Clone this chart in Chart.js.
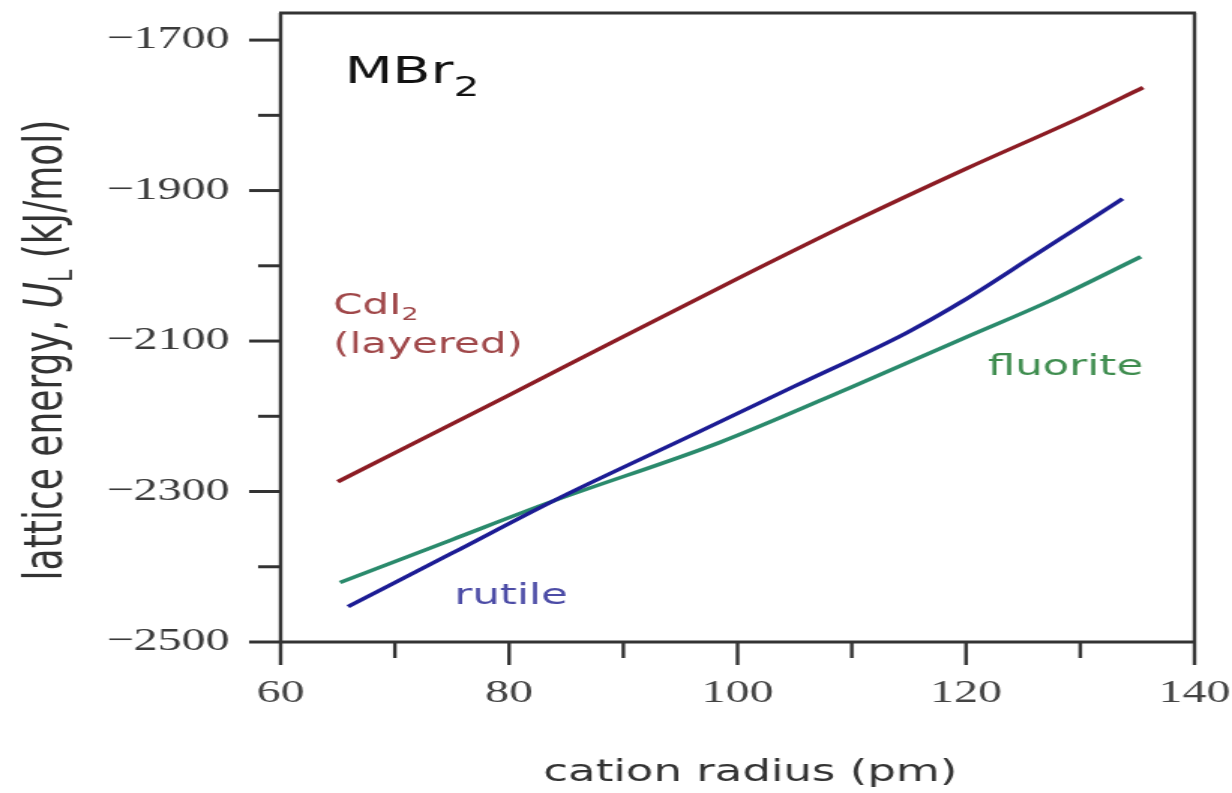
<!DOCTYPE html>
<html>
<head>
<meta charset="utf-8">
<title>MBr2 lattice energy</title>
<script src="https://cdn.jsdelivr.net/npm/chart.js@4.4.1/dist/chart.umd.min.js"></script>
<style>
  html, body { margin: 0; padding: 0; background: #fff; }
  #chart { display: block; }
</style>
</head>
<body>
<!-- the original picture is stretched sideways, so the canvas is too -->
<canvas id="chart" width="821" height="793" style="width:1232px;height:793px"></canvas>
<script>
// cation radius (pm) and lattice energy (kJ/mol)
const radiusCdI2 = [65, 80, 90, 100, 110, 120, 130, 135.5];
const energyCdI2 = [-2287, -2172, -2094, -2017, -1942, -1871, -1803, -1763];

const radiusRutile = [65.9, 75, 83.8, 96.7, 105, 114.8, 119.7, 126, 133.7];
const energyRutile = [-2453, -2382, -2313, -2220, -2160, -2089, -2047, -1986, -1911];

const radiusFluorite = [65.2, 75, 83.8, 98.4, 110, 120, 127.3, 135.3];
const energyFluorite = [-2421, -2364, -2313, -2235, -2161, -2095, -2047, -1988];

// labelled ticks
const xTickLabels = [60, 80, 100, 120, 140];
const yTickLabels = [-1700, -1900, -2100, -2300, -2500];

const toPoints = (xs, ys) => xs.map((v, i) => ({ x: v, y: ys[i] }));

const AXIS = '#333';
const SANS = '"DejaVu Sans", Verdana, sans-serif';
const SERIF = '"Liberation Serif", "Times New Roman", serif';

// axis box, tick marks, axis titles and the in-plot labels
const framePlugin = {
  id: 'frame',
  afterDatasetsDraw(chart) {
    const { ctx, chartArea: a, scales: { x, y } } = chart;
    const line = (x1, y1, x2, y2) => {
      ctx.beginPath();
      ctx.moveTo(x1, y1);
      ctx.lineTo(x2, y2);
      ctx.stroke();
    };
    ctx.save();
    ctx.strokeStyle = AXIS;

    // tick marks, longer on labelled ticks
    ctx.lineWidth = 2.4;
    x.ticks.forEach(t => {
      const v = Math.round(t.value);
      const px = x.getPixelForValue(v);
      const len = xTickLabels.includes(v) ? 23 : 16;
      line(px, a.bottom, px, a.bottom + len);
    });
    ctx.lineWidth = 3;
    y.ticks.forEach(t => {
      const v = Math.round(t.value);
      if (v > -1700) return;
      const py = y.getPixelForValue(v);
      const len = yTickLabels.includes(v) ? 21 : 15;
      line(a.left - len, py, a.left, py);
    });

    // box
    ctx.lineWidth = 3;
    line(a.left - 1, a.top, a.right + 1, a.top);
    line(a.left - 1, a.bottom, a.right + 1, a.bottom);
    ctx.lineWidth = 2.4;
    line(a.left, a.top, a.left, a.bottom);
    line(a.right, a.top, a.right, a.bottom);

    // text with an optional subscript
    const label = (parts, px, py, color) => {
      ctx.fillStyle = color;
      ctx.textBaseline = 'alphabetic';
      ctx.textAlign = 'left';
      let cx = px;
      parts.forEach(p => {
        ctx.font = p.font;
        ctx.fillText(p.text, cx, py + (p.dy || 0));
        cx += ctx.measureText(p.text).width;
      });
    };
    const at = (vx, vy) => [x.getPixelForValue(vx), y.getPixelForValue(vy)];

    label([{ text: 'MBr', font: `37px ${SANS}` }, { text: '2', font: `27px ${SANS}`, dy: 13 }],
      ...at(65.6, -1757), '#111');
    label([{ text: 'CdI', font: `28px ${SANS}` }, { text: '2', font: `18px ${SANS}`, dy: 6 }],
      ...at(64.6, -2064), '#a0484a');
    label([{ text: '(layered)', font: `28px ${SANS}` }], ...at(64.6, -2116), '#a0484a');
    label([{ text: 'rutile', font: `29px ${SANS}` }], ...at(75.2, -2449), '#4c4ca6');
    label([{ text: 'fluorite', font: `29px ${SANS}` }], ...at(121.9, -2145), '#3f8d4f');

    // x axis title
    ctx.fillStyle = '#333';
    ctx.font = `30px ${SANS}`;
    ctx.textAlign = 'center';
    ctx.textBaseline = 'middle';
    ctx.fillText('cation radius (pm)', 500, 773);

    // y axis title, rotated, with italic U and subscript L
    ctx.translate(29, 350);
    ctx.rotate(-Math.PI / 2);
    const parts = [
      { text: 'lattice energy, ', font: `36px ${SANS}`, dy: 0 },
      { text: 'U', font: `italic 36px ${SANS}`, dy: 0 },
      { text: 'L', font: `22px ${SANS}`, dy: 7 },
      { text: ' (kJ/mol)', font: `36px ${SANS}`, dy: 0 }
    ];
    let total = 0;
    parts.forEach(p => { ctx.font = p.font; total += ctx.measureText(p.text).width; });
    ctx.textAlign = 'left';
    ctx.textBaseline = 'alphabetic';
    let cx = -total / 2;
    parts.forEach(p => {
      ctx.font = p.font;
      ctx.fillText(p.text, cx, 12 + p.dy);
      cx += ctx.measureText(p.text).width;
    });
    ctx.restore();
  }
};

// keep the plot area exactly where the layout padding puts it
const noScalePadding = s => {
  s.paddingTop = 0;
  s.paddingBottom = 0;
  s.paddingLeft = 0;
  s.paddingRight = 0;
};

new Chart(document.getElementById('chart'), {
  type: 'scatter',
  data: {
    datasets: [
      {
        label: 'CdI2 (layered)',
        data: toPoints(radiusCdI2, energyCdI2),
        borderColor: '#8c1c24',
      },
      {
        label: 'rutile',
        data: toPoints(radiusRutile, energyRutile),
        borderColor: '#1c1c94',
      },
      {
        label: 'fluorite',
        data: toPoints(radiusFluorite, energyFluorite),
        borderColor: '#2a8a6c',
      }
    ].map(d => ({
      ...d,
      showLine: true,
      pointRadius: 0,
      borderWidth: 3.5,
      cubicInterpolationMode: 'monotone',
      fill: false
    }))
  },
  options: {
    responsive: false,
    animation: false,
    devicePixelRatio: 1,
    layout: { padding: { top: 13, right: 25, left: 0, bottom: 0 } },
    plugins: {
      legend: { display: false },
      tooltip: { enabled: false }
    },
    scales: {
      x: {
        type: 'linear',
        min: 60,
        max: 140,
        grid: { display: false, drawTicks: false },
        border: { display: false },
        ticks: {
          stepSize: 10,
          includeBounds: false,
          autoSkip: false,
          maxRotation: 0,
          padding: 32,
          color: '#444',
          font: { family: SERIF, size: 32 },
          callback: v => xTickLabels.includes(Math.round(v)) ? String(Math.round(v)) : ''
        },
        afterFit: s => { s.height = 151; noScalePadding(s); }
      },
      y: {
        type: 'linear',
        min: -2500,
        max: -1664,
        grid: { display: false, drawTicks: false },
        border: { display: false },
        ticks: {
          stepSize: 100,
          includeBounds: false,
          autoSkip: false,
          padding: 34,
          color: '#3a3a3a',
          font: { family: SERIF, size: 32 },
          callback: v => yTickLabels.includes(Math.round(v)) ? '\u2212' + Math.abs(Math.round(v)) : ''
        },
        afterFit: s => { s.width = 187; noScalePadding(s); }
      }
    }
  },
  plugins: [framePlugin]
});
</script>
</body>
</html>
